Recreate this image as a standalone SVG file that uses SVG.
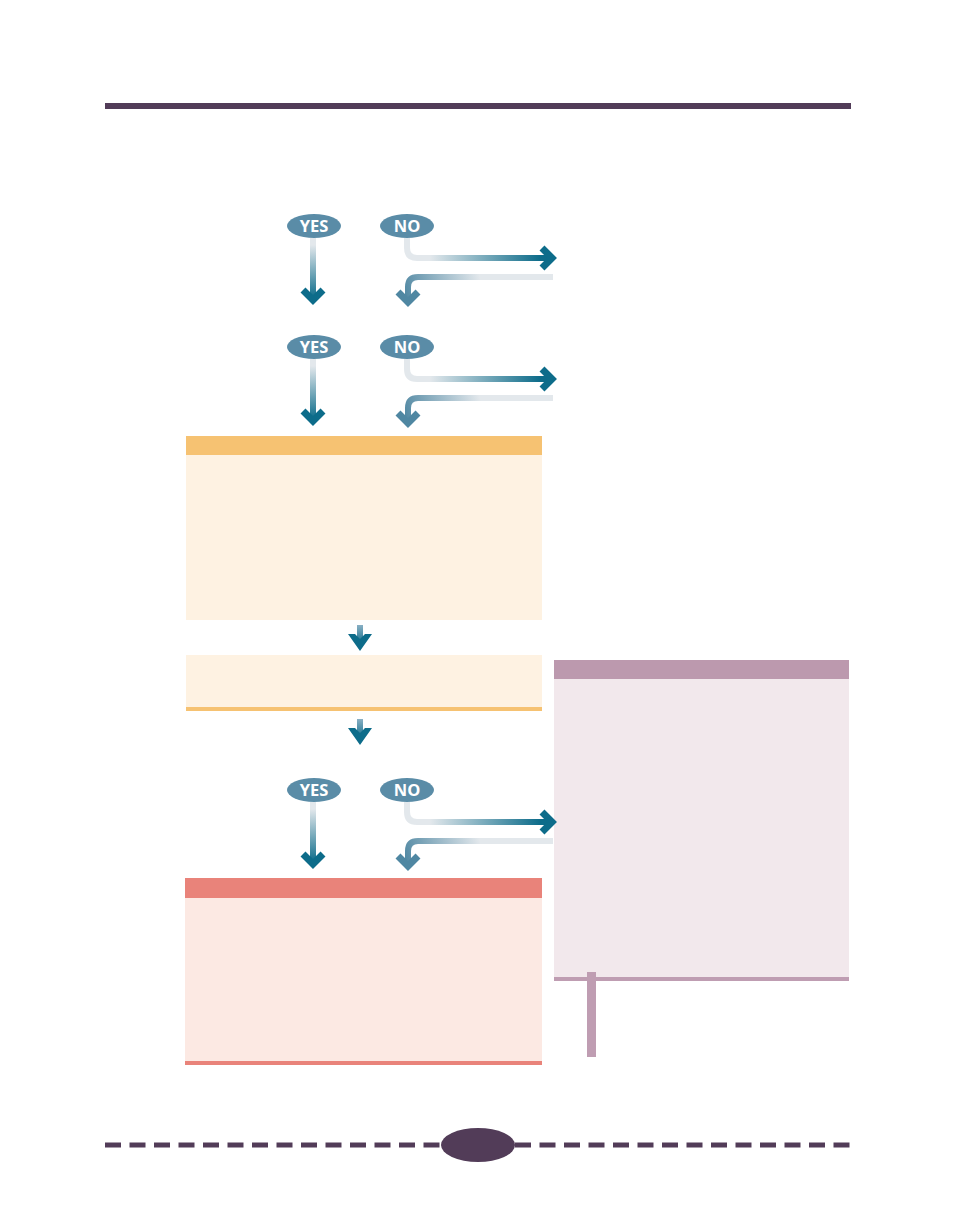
<svg xmlns="http://www.w3.org/2000/svg" width="954" height="1206" viewBox="0 0 954 1206">
<style>
.pill{fill:#5a8ca7}
.pt{font-family:"Open Sans","Liberation Sans",sans-serif;font-weight:bold;font-size:16.5px;fill:#fff;text-anchor:middle}
.sh{fill:none;stroke-width:6;stroke-linecap:butt}
.hd{fill:none;stroke-width:7;stroke-linecap:butt;stroke-linejoin:miter}
.dk{fill:#523c58}
</style>
<defs>
<linearGradient id="gY" x1="0" y1="245" x2="0" y2="298" gradientUnits="userSpaceOnUse"><stop offset="0" stop-color="#e3e8ec"/><stop offset="1" stop-color="#0d6c8a"/></linearGradient>
<linearGradient id="gN" x1="430" y1="0" x2="540" y2="0" gradientUnits="userSpaceOnUse"><stop offset="0" stop-color="#e3e8ec"/><stop offset="1" stop-color="#0d6c8a"/></linearGradient>
<linearGradient id="gR" x1="480" y1="277" x2="405" y2="300" gradientUnits="userSpaceOnUse"><stop offset="0" stop-color="#e3e8ec"/><stop offset="1" stop-color="#4f87a2"/></linearGradient>
<linearGradient id="gS" x1="0" y1="0" x2="0" y2="1"><stop offset="0" stop-color="#8ab0c4"/><stop offset="1" stop-color="#0d6c8a"/></linearGradient>
<g id="dec">
<ellipse class="pill" cx="314" cy="226" rx="27" ry="12"/>
<text class="pt" x="314" y="232">YES</text>
<ellipse class="pill" cx="407" cy="226" rx="27" ry="12"/>
<text class="pt" x="407" y="232">NO</text>
<path class="sh" stroke="url(#gY)" d="M313,238 V298"/>
<polyline class="hd" stroke="#0d6c8a" points="303,290 313,300 323,290"/>
<path class="sh" stroke="url(#gN)" d="M407,238 V248 Q407,258 417,258 H549"/>
<polyline class="hd" stroke="#0d6c8a" points="542,248 552,258 542,268"/>
<path class="sh" stroke="url(#gR)" d="M553,277 H418 Q408,277 408,287 V300"/>
<polyline class="hd" stroke="#4f87a2" points="398,292 408,302 418,292"/>
</g>
<g id="sm">
<rect x="357" y="0" width="6" height="20" fill="url(#gS)"/>
<path d="M348,9 L355,9 L360,14 L365,9 L372,9 L360,26 Z" fill="#0d6c8a"/>
</g>
</defs>
<rect class="dk" x="105" y="103" width="746" height="6"/>
<g id="decision1"><use href="#dec"/></g>
<g id="decision2" transform="translate(0,121)"><use href="#dec"/></g>
<g id="box1">
<rect x="186" y="455" width="356" height="165" fill="#fef2e2"/>
<rect x="186" y="436" width="356" height="19" fill="#f6c272"/>
</g>
<g id="connectors">
<use href="#sm" transform="translate(0,625)"/>
<use href="#sm" transform="translate(0,719)"/>
</g>
<g id="box2">
<rect x="186" y="655" width="356" height="52" fill="#fef2e2"/>
<rect x="186" y="707" width="356" height="4" fill="#f6c272"/>
</g>
<g id="sidebox">
<rect x="554" y="679" width="295" height="298" fill="#f2e8ec"/>
<rect x="554" y="660" width="295" height="19" fill="#bc99ae"/>
<rect x="554" y="977" width="295" height="4" fill="#bf9db2"/>
<rect x="587" y="972" width="9" height="85" fill="#bf9db2"/>
</g>
<g id="decision3" transform="translate(0,564)"><use href="#dec"/></g>
<g id="box3">
<rect x="185" y="898" width="357" height="163" fill="#fce9e3"/>
<rect x="185" y="878" width="357" height="20" fill="#e9837a"/>
<rect x="185" y="1061" width="357" height="4" fill="#e9837a"/>
</g>
<g id="footer">
<line x1="105" y1="1145" x2="440" y2="1145" stroke="#523c58" stroke-width="5" stroke-dasharray="16 8.5"/>
<line x1="515" y1="1145" x2="851" y2="1145" stroke="#523c58" stroke-width="5" stroke-dasharray="16 8.5"/>
<ellipse class="dk" cx="478" cy="1145" rx="37" ry="17"/>
</g>
</svg>
